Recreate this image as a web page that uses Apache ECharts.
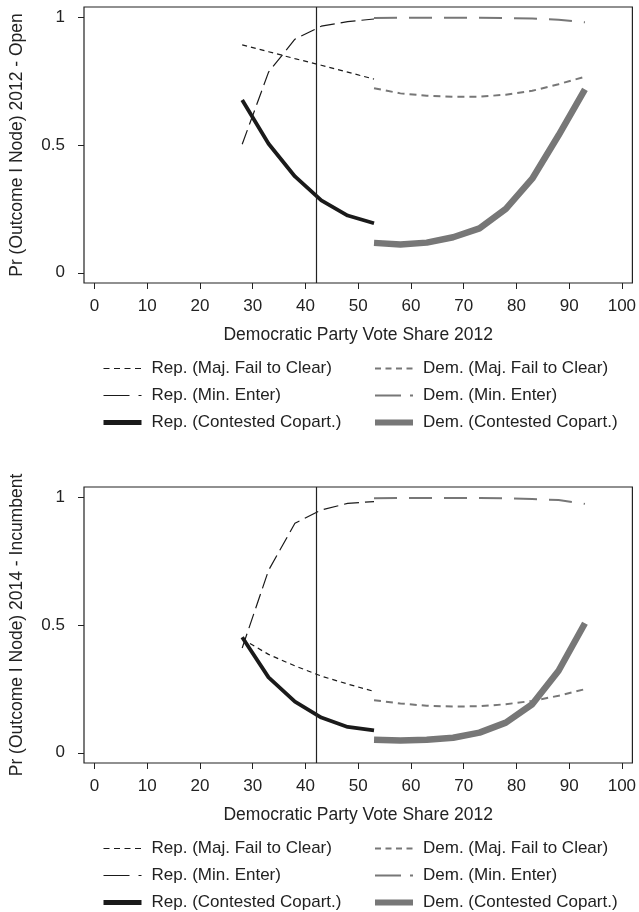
<!DOCTYPE html>
<html>
<head>
<meta charset="utf-8">
<script src="https://cdn.jsdelivr.net/npm/echarts@6/dist/echarts.min.js"></script>
<style>
html,body{margin:0;padding:0;background:#fff;}
#chart{width:639px;height:912px;}
</style>
</head>
<body>
<div id="chart"></div>
<script>
// ---- data ----
var xRep = [28, 33, 38, 43, 48, 53];
var xDem = [53, 58, 63, 68, 73, 78, 83, 88, 93];
var xTicks = [0, 10, 20, 30, 40, 50, 60, 70, 80, 90, 100];
var yTicks = [0, 0.5, 1];
var cutoff = 42;

var seriesNames = [
  'Rep. (Maj. Fail to Clear)', 'Rep. (Min. Enter)', 'Rep. (Contested Copart.)',
  'Dem. (Maj. Fail to Clear)', 'Dem. (Min. Enter)', 'Dem. (Contested Copart.)'
];

// 2012 - Open
var openRepMajFail = [0.892, 0.865, 0.838, 0.812, 0.785, 0.758];
var openRepMinEnter = [0.503, 0.785, 0.914, 0.965, 0.983, 0.993];
var openRepContested = [0.676, 0.505, 0.377, 0.283, 0.224, 0.194];
var openDemMajFail = [0.722, 0.702, 0.693, 0.689, 0.689, 0.697, 0.712, 0.738, 0.767];
var openDemMinEnter = [0.997, 0.998, 0.998, 0.998, 0.998, 0.997, 0.995, 0.99, 0.98];
var openDemContested = [0.117, 0.111, 0.118, 0.139, 0.174, 0.25, 0.368, 0.538, 0.718];

// 2014 - Incumbent
var incRepMajFail = [0.445, 0.385, 0.34, 0.3, 0.269, 0.24];
var incRepMinEnter = [0.41, 0.714, 0.898, 0.95, 0.976, 0.983];
var incRepContested = [0.452, 0.295, 0.2, 0.138, 0.101, 0.088];
var incDemMajFail = [0.206, 0.193, 0.184, 0.181, 0.182, 0.19, 0.203, 0.223, 0.249];
var incDemMinEnter = [0.996, 0.997, 0.997, 0.997, 0.997, 0.996, 0.993, 0.989, 0.974];
var incDemContested = [0.051, 0.048, 0.051, 0.059, 0.079, 0.118, 0.19, 0.321, 0.507];

var yTitles = ['Pr (Outcome I Node) 2012 - Open', 'Pr (Outcome I Node) 2014 - Incumbent'];
var xTitle = 'Democratic Party Vote Share 2012';

// ---- styles ----
var BLACK = '#1a1a1a', GRAY = '#777777', AX = '#222';
var FONT = 'Liberation Sans, Arial, Helvetica, sans-serif';
var FS = 17, FS_NAME = 17.5;
var styles = [
  {color: BLACK, width: 1.2, type: [5, 4]},
  {color: BLACK, width: 1.2, type: [15, 6]},
  {color: BLACK, width: 3.8, type: 'solid'},
  {color: GRAY, width: 2, type: [7, 5]},
  {color: GRAY, width: 2, type: [23, 12]},
  {color: GRAY, width: 6.5, type: 'solid'}
];
var legendLine = [
  {type: [6, 4.5]},
  {type: [26, 9]},
  {width: 5},
  {type: [6, 4.5], width: 1.8},
  {type: [26, 9]},
  {width: 6}
];

function zip(xs, ys) { return xs.map(function (x, i) { return [x, ys[i]]; }); }

var panels = [
  [openRepMajFail, openRepMinEnter, openRepContested, openDemMajFail, openDemMinEnter, openDemContested],
  [incRepMajFail, incRepMinEnter, incRepContested, incDemMajFail, incDemMinEnter, incDemContested]
];
var gridTops = [7, 487];

var grids = [], xAxes = [], yAxes = [], series = [], legends = [];
panels.forEach(function (vals, p) {
  grids.push({left: 82, top: gridTops[p], width: 552, height: 276, show: true,
    borderColor: AX, borderWidth: 1.2, backgroundColor: 'transparent', containLabel: false});
  xAxes.push({type: 'value', gridIndex: p, min: -2, max: 102, position: 'bottom',
    splitLine: {show: false}, axisLine: {show: false, onZero: false},
    axisTick: {show: true, inside: false, length: 6, lineStyle: {color: AX, width: 1}, customValues: xTicks},
    axisLabel: {show: true, margin: 15, color: AX, fontSize: FS, fontFamily: FONT, customValues: xTicks},
    name: xTitle, nameLocation: 'middle', nameGap: 43,
    nameTextStyle: {color: AX, fontSize: FS_NAME, fontFamily: FONT}});
  yAxes.push({type: 'value', gridIndex: p, min: -0.04, max: 1.04, position: 'left',
    splitLine: {show: false}, axisLine: {show: false, onZero: false},
    axisTick: {show: true, inside: false, length: 6, lineStyle: {color: AX, width: 1}, customValues: yTicks},
    axisLabel: {show: true, margin: 19, color: AX, fontSize: FS, fontFamily: FONT, customValues: yTicks},
    name: yTitles[p], nameLocation: 'middle', nameGap: 58, nameRotate: 90,
    nameTextStyle: {color: AX, fontSize: FS_NAME, fontFamily: FONT}});
  vals.forEach(function (v, i) {
    var xs = i < 3 ? xRep : xDem;
    var s = {
      type: 'line', name: seriesNames[i], xAxisIndex: p, yAxisIndex: p,
      data: zip(xs, v), symbol: 'none', showSymbol: false, smooth: false,
      lineStyle: styles[i], itemStyle: {color: styles[i].color}, silent: true,
      animation: false, z: 3
    };
    if (i === 0) {
      s.markLine = {silent: true, symbol: ['none', 'none'], label: {show: false},
        lineStyle: {color: AX, width: 1.2, type: 'solid'}, data: [{xAxis: cutoff}], animation: false};
    }
    series.push(s);
  });
  var lgTop = p === 0 ? 360 : 840;
  [[0, 101], [3, 372]].forEach(function (c) {
    var items = [];
    for (var k = c[0]; k < c[0] + 3; k++) {
      items.push({name: seriesNames[k], lineStyle: legendLine[k]});
    }
    legends.push({
      orient: 'vertical', left: c[1], top: lgTop, height: 72, padding: 0,
      itemWidth: 38, itemHeight: 17, itemGap: 10,
      selectedMode: false,
      data: items,
      lineStyle: {width: 'inherit'},
      itemStyle: {color: 'rgba(0,0,0,0)', borderWidth: 0, opacity: 0},
      textStyle: {color: AX, fontSize: FS, lineHeight: 17, fontFamily: FONT, padding: [0, 0, 0, 5]}
    });
  });
});

var chart = echarts.init(document.getElementById('chart'), null, {renderer: 'canvas'});
chart.setOption({
  animation: false,
  backgroundColor: '#fff',
  grid: grids, xAxis: xAxes, yAxis: yAxes, series: series, legend: legends
});
</script>
</body>
</html>
